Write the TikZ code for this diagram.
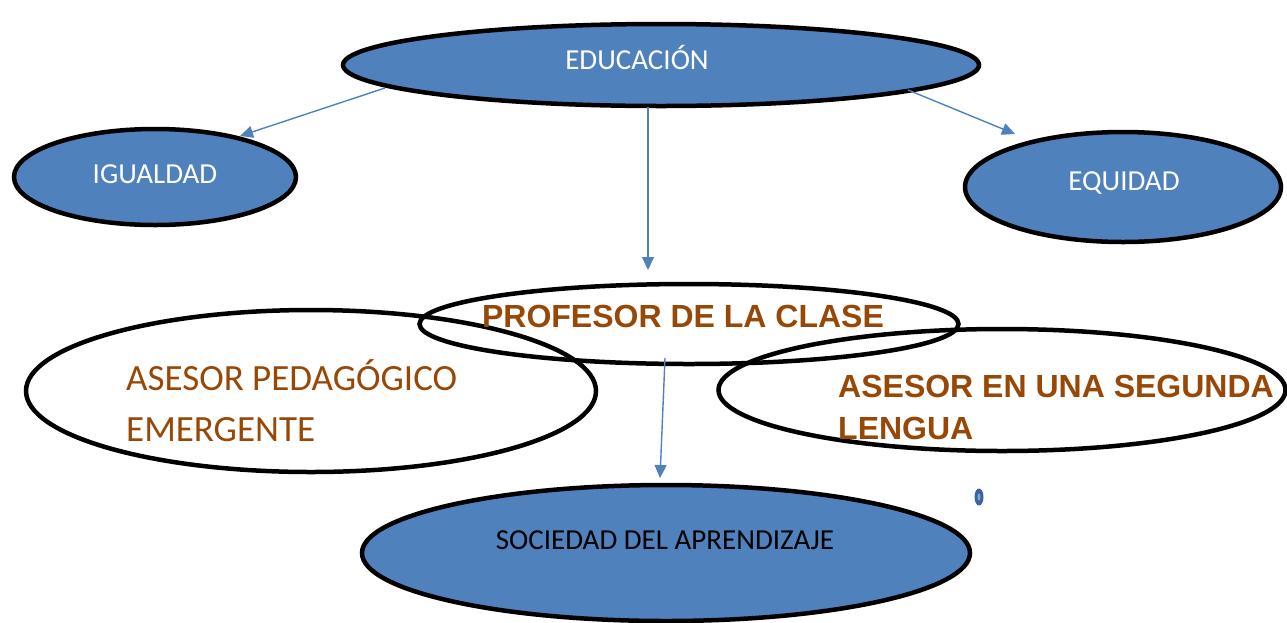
\documentclass[tikz,border=0pt]{standalone}
\usepackage{fontspec}
\newfontfamily\calfont{Carlito}
\newfontfamily\arialfont{Liberation Sans}
\usetikzlibrary{shapes.geometric,calc,arrows.meta}
\definecolor{blu}{HTML}{4F81BD}
\definecolor{brn}{HTML}{984806}
\definecolor{dotblu}{HTML}{3A64A0}
\tikzset{
  bubble/.style={ellipse,draw=black,line width=4.5pt,inner sep=0pt,outer sep=0pt},
  blueb/.style={bubble,fill=blu},
  whiteb/.style={bubble},
  arr/.style={draw=blu,line width=1.4pt,-{Triangle[length=13pt,width=12pt]}},
  wtext/.style={text=white,anchor=base,inner sep=0pt,font=\calfont\fontsize{29}{35}\selectfont},
  ktext/.style={text=black,anchor=base,inner sep=0pt,font=\calfont\fontsize{29}{35}\selectfont},
  btext/.style={text=brn,anchor=base west,inner sep=0pt,align=left},
}
\begin{document}
\begin{tikzpicture}[x=1pt,y=-1pt]
\useasboundingbox (0,0) rectangle (1287,622);
% blue ellipses
\node[blueb,minimum width=636pt,minimum height=82pt] (edu) at (661,65) {};
\node[blueb,minimum width=282pt,minimum height=96pt] (igu) at (155,177) {};
\node[blueb,minimum width=316pt,minimum height=110pt] (equ) at (1123,187) {};
\node[blueb,minimum width=608pt,minimum height=136pt] (soc) at (666,553) {};
% white ellipses
\node[whiteb,minimum width=539pt,minimum height=80pt] (prof) at (689,324) {};
\node[whiteb,minimum width=570pt,minimum height=162pt] (ped) at (311,391) {};
\node[whiteb,minimum width=567pt,minimum height=122pt] (seg) at (1002,390) {};
% small dot
\node[ellipse,fill=dotblu,minimum width=9pt,minimum height=17pt,inner sep=0pt] (dot) at (979,497) {};
\node[ellipse,fill=blu!70,minimum width=3pt,minimum height=7pt,inner sep=0pt] (dotc) at (dot.center) {};
% texts
\node[wtext] (tedu) at (637,69) {EDUCACIÓN};
\node[wtext] (tigu) at (155,183) {IGUALDAD};
\node[wtext] (tequ) at (1124,190) {EQUIDAD};
\node[ktext] (tsoc) at (665,549) {SOCIEDAD DEL APRENDIZAJE};
\node[btext,anchor=base,font=\arialfont\bfseries\fontsize{32}{38}\selectfont] (tprof) at (683,327) {PROFESOR DE LA CLASE};
\node[btext,font=\calfont\fontsize{37}{51}\selectfont] (tped) at (126,441) {ASESOR PEDAGÓGICO\\EMERGENTE};
\node[btext,font=\arialfont\bfseries\fontsize{32}{42}\selectfont] (tseg) at (838,439) {ASESOR EN UNA SEGUNDA\\LENGUA};
% arrows
\draw[arr] ($(edu.center)+(-276,23)$) -- ($(igu.center)+(85,-41)$);
\draw[arr] ($(edu.center)+(247,25)$) -- ($(equ.center)+(-108,-53)$);
\draw[arr] ($(edu.center)+(-13,42)$) -- ($(prof.center)+(-41,-54)$);
\draw[arr] ($(prof.center)+(-24,34)$) -- ($(soc.center)+(-6,-75)$);
\end{tikzpicture}
\end{document}
